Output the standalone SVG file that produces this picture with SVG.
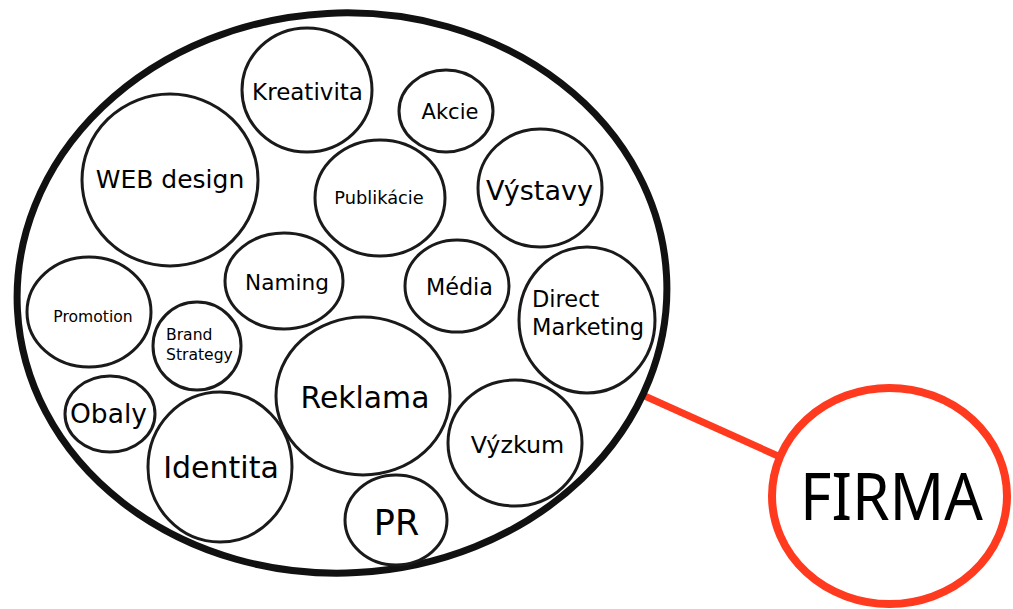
<svg xmlns="http://www.w3.org/2000/svg" width="1013" height="609" viewBox="0 0 1013 609">
<style>
.c{fill:#ffffff;stroke:#1a1a1a;stroke-width:3}
.t{font-family:"DejaVu Sans","Liberation Sans",sans-serif;fill:#000;text-anchor:middle}
.s{font-family:"DejaVu Sans","Liberation Sans",sans-serif;fill:#000}
</style>
<rect width="1013" height="609" fill="#ffffff"/>
<g id="connectors">
<line x1="638" y1="393" x2="778" y2="456" stroke="#ff3a1e" stroke-width="7"/>
</g>
<g id="group">
<ellipse cx="342" cy="293" rx="325" ry="280" transform="rotate(-3 342 293)" fill="#ffffff" stroke="#111" stroke-width="7"/>
</g>
<g id="kreativita"><ellipse class="c" cx="307" cy="90" rx="65" ry="62"/><text class="t" x="307.5" y="100" font-size="23">Kreativita</text></g>
<g id="akcie"><ellipse class="c" cx="446" cy="111" rx="47" ry="41"/><text class="t" x="450" y="119" font-size="21">Akcie</text></g>
<g id="web-design"><ellipse class="c" cx="170" cy="180" rx="88" ry="86"/><text class="t" x="170" y="188" font-size="25">WEB design</text></g>
<g id="publikacie"><ellipse class="c" cx="380" cy="198" rx="65" ry="58"/><text class="t" x="379" y="204" font-size="17.8">Publikácie</text></g>
<g id="vystavy"><ellipse class="c" cx="540" cy="188" rx="62" ry="59"/><text class="t" x="539.5" y="200" font-size="27">Výstavy</text></g>
<g id="naming"><ellipse class="c" cx="284" cy="281" rx="59" ry="48"/><text class="t" x="287" y="290" font-size="21.6">Naming</text></g>
<g id="media"><ellipse class="c" cx="457" cy="286" rx="52" ry="46"/><text class="t" x="459.5" y="295" font-size="22.3">Média</text></g>
<g id="direct-marketing"><ellipse class="c" cx="587" cy="320" rx="68" ry="73"/><text class="s" x="532" y="307" font-size="22.5">Direct</text><text class="s" x="532" y="335" font-size="22.5">Marketing</text></g>
<g id="promotion"><ellipse class="c" cx="89" cy="312" rx="62" ry="55"/><text class="t" x="93" y="322" font-size="15.6">Promotion</text></g>
<g id="brand-strategy"><ellipse class="c" cx="197" cy="346" rx="44" ry="44"/><text class="s" x="166" y="340" font-size="15.6">Brand</text><text class="s" x="166" y="360" font-size="15.6">Strategy</text></g>
<g id="obaly"><ellipse class="c" cx="110" cy="414" rx="45" ry="38"/><text class="t" x="108.5" y="423" font-size="26.5">Obaly</text></g>
<g id="identita"><ellipse class="c" cx="220" cy="467" rx="72" ry="75"/><text class="t" x="221" y="478" font-size="30">Identita</text></g>
<g id="reklama"><ellipse class="c" cx="363" cy="396" rx="87" ry="79"/><text class="t" x="365" y="408" font-size="29.8">Reklama</text></g>
<g id="vyzkum"><ellipse class="c" cx="515" cy="443" rx="67" ry="63"/><text class="t" x="517.5" y="453" font-size="23.8">Výzkum</text></g>
<g id="pr"><ellipse class="c" cx="396" cy="520" rx="51" ry="45"/><text class="t" x="396.5" y="535" font-size="35">PR</text></g>
<g id="firma"><ellipse cx="889.5" cy="496" rx="117.5" ry="108" fill="#ffffff" stroke="#ff3a1e" stroke-width="8"/><text x="891.5" y="520" font-family="'Noto Sans','Open Sans',sans-serif" font-size="66" text-anchor="middle" textLength="183" lengthAdjust="spacingAndGlyphs" fill="#000">FIRMA</text></g>
</svg>
